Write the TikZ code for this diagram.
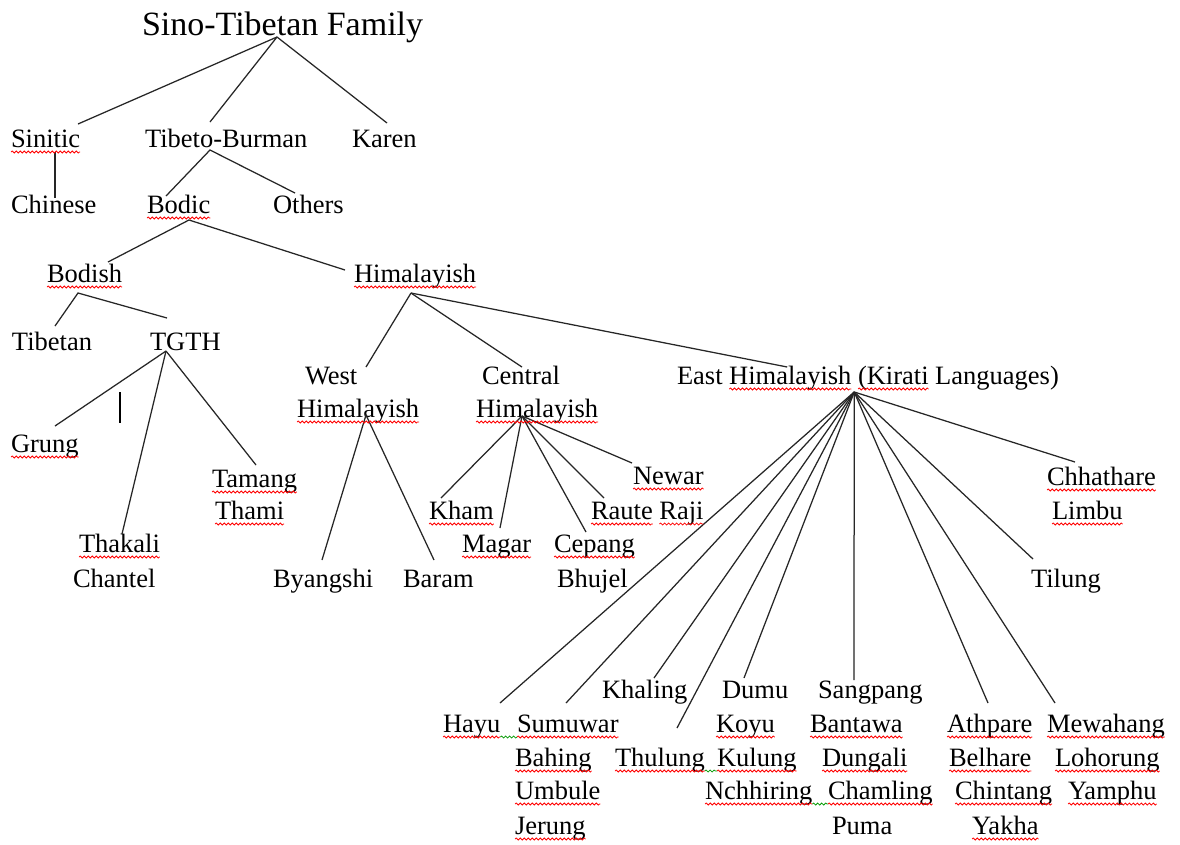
\documentclass[tikz,border=0pt]{standalone}
\usepackage{fontspec}
\setmainfont{Liberation Serif}
\usetikzlibrary{decorations.pathmorphing}

\newcommand\lblsize{\fontsize{26.5}{30}\selectfont}
\newcommand\titlesize{\fontsize{34}{40}\selectfont}

\tikzset{
  lbl/.style={anchor=base west, inner sep=0pt, outer sep=0pt, font=\lblsize},
  ttl/.style={lbl, font=\titlesize},
  branch/.style={line width=1.25pt, draw=black!85},
  squig/.style={decorate, decoration={snake, segment length=4pt, amplitude=1pt}, line width=0.75pt},
  caret/.style={line width=1.8pt, draw=black},
}

% wavy spell-check mark under a word, and a grammar mark across a gap
\newcommand\wavy[2][red]{\draw[squig,#1] ([yshift=-5pt]#2.base west) -- ([yshift=-5pt]#2.base east);}
\newcommand\gapmark[2]{\draw[squig,green!60!black] ([yshift=-5pt]#1.base east) -- ([yshift=-5pt]#2.base west);}

\begin{document}
\begin{tikzpicture}[x=1pt, y=-1pt]
\useasboundingbox[fill=white] (0,0) rectangle (1180,844);

% ---------- labels ----------
\node[ttl] (family)   at (142,35)  {Sino-Tibetan Family};
\node[lbl] (sinitic)  at (11,147)  {Sinitic};
\node[lbl] (tibburm)  at (145,147) {Tibeto-Burman};
\node[lbl] (karen)    at (352,147) {Karen};
\node[lbl] (chinese)  at (11,213)  {Chinese};
\node[lbl] (bodic)    at (147,213) {Bodic};
\node[lbl] (others)   at (273,213) {Others};
\node[lbl] (bodish)   at (47,282)  {Bodish};
\node[lbl] (himal)    at (354,282) {Himalayish};
\node[lbl] (tibetan)  at (12,350)  {Tibetan};
\node[lbl] (tgth)     at (150,350) {TGTH};
\node[lbl] (grung)    at (11,452)  {Grung};
\node[lbl] (tamang)   at (212,487) {Tamang};
\node[lbl] (thami)    at (215,519) {Thami};
\node[lbl] (thakali)  at (79,552)  {Thakali};
\node[lbl] (chantel)  at (73,587)  {Chantel};

\node[lbl] (westA)    at (305,384) {West};
\node[lbl] (westB)    at (297,417) {Himalayish};
\node[lbl] (centA)    at (482,384) {Central};
\node[lbl] (centB)    at (476,417) {Himalayish};
\node[lbl] (eEast)    at (677,384) {East};
\node[lbl] (eHim)     at ([xshift=6.6pt]eEast.base east) {Himalayish};
\node[lbl] (eKir)     at ([xshift=6.6pt]eHim.base east)  {(Kirati};
\node[lbl] (eLang)    at ([xshift=6.6pt]eKir.base east)  {Languages)};

\node[lbl] (byangshi) at (273,587) {Byangshi};
\node[lbl] (baram)    at (403,587) {Baram};
\node[lbl] (kham)     at (429,519) {Kham};
\node[lbl] (magar)    at (462,552) {Magar};
\node[lbl] (cepang)   at (554,552) {Cepang};
\node[lbl] (bhujel)   at (557,587) {Bhujel};
\node[lbl] (newar)    at (633,484) {Newar};
\node[lbl] (raute)    at (591,519) {Raute};
\node[lbl] (raji)     at ([xshift=6.6pt]raute.base east) {Raji};

\node[lbl] (chhathare) at (1047,485) {Chhathare};
\node[lbl] (limbu)     at (1052,519) {Limbu};
\node[lbl] (tilung)    at (1031,587) {Tilung};

\node[lbl] (khaling)  at (602,698)  {Khaling};
\node[lbl] (dumu)     at (722,698)  {Dumu};
\node[lbl] (sangpang) at (818,698)  {Sangpang};
\node[lbl] (hayu)     at (443,732)  {Hayu};
\node[lbl] (sumuwar)  at (517,732)  {Sumuwar};
\node[lbl] (koyu)     at (716,732)  {Koyu};
\node[lbl] (bantawa)  at (810,732)  {Bantawa};
\node[lbl] (athpare)  at (947,732)  {Athpare};
\node[lbl] (mewahang) at (1047,732) {Mewahang};
\node[lbl] (bahing)   at (515,766)  {Bahing};
\node[lbl] (thulung)  at (615,766)  {Thulung};
\node[lbl] (kulung)   at (717,766)  {Kulung};
\node[lbl] (dungali)  at (822,766)  {Dungali};
\node[lbl] (belhare)  at (949,766)  {Belhare};
\node[lbl] (lohorung) at (1055,766) {Lohorung};
\node[lbl] (umbule)   at (515,799)  {Umbule};
\node[lbl] (nchhiring) at (705,799) {Nchhiring};
\node[lbl] (chamling) at (828,799)  {Chamling};
\node[lbl] (chintang) at (955,799)  {Chintang};
\node[lbl] (yamphu)   at (1068,799) {Yamphu};
\node[lbl] (jerung)   at (515,834)  {Jerung};
\node[lbl] (puma)     at (832,834)  {Puma};
\node[lbl] (yakha)    at (972,834)  {Yakha};

% ---------- branches ----------
\draw[branch] ([shift={(67,-23)}]sinitic.base west) -- ([shift={(135,2)}]family.base west)
              -- ([shift={(35,-24)}]karen.base west);
\draw[branch] ([shift={(135,2)}]family.base west) -- ([shift={(65,-25)}]tibburm.base west);
\draw[branch] ([shift={(44,5)}]sinitic.base west) -- ([shift={(44,-15)}]chinese.base west);
\draw[branch] ([shift={(19,-17)}]bodic.base west) -- ([shift={(65,3)}]tibburm.base west)
              -- ([shift={(22,-20)}]others.base west);
\draw[branch] ([shift={(61,-20)}]bodish.base west) -- ([shift={(42,7)}]bodic.base west)
              -- ([shift={(-9,-12)}]himal.base west);
\draw[branch] ([shift={(43,-24)}]tibetan.base west) -- ([shift={(31,11)}]bodish.base west)
              -- ([shift={(17,-32)}]tgth.base west);
\draw[branch] ([shift={(16,1)}]tgth.base west) -- ([shift={(44,-26)}]grung.base west);
\draw[branch] ([shift={(16,1)}]tgth.base west) -- ([shift={(43,-18)}]thakali.base west);
\draw[branch] ([shift={(16,1)}]tgth.base west) -- ([shift={(44,-22)}]tamang.base west);

\draw[branch] ([shift={(57,11)}]himal.base west) -- ([shift={(61,-17)}]westA.base west);
\draw[branch] ([shift={(57,11)}]himal.base west) -- ([shift={(40,-17)}]centA.base west);
\draw[branch] ([shift={(57,11)}]himal.base west) -- ([shift={(58,-17)}]eHim.base west);

\draw[branch] ([shift={(49,-27)}]byangshi.base west) -- ([shift={(69,-2)}]westB.base west)
              -- ([shift={(31,-27)}]baram.base west);

\foreach \tgt/\dx/\dy in {kham/12/-21, magar/38/-24, cepang/32/-20, raute/13/-21, newar/-1/-21}
  \draw[branch] ([shift={(46,-1)}]centB.base west) -- ([shift={(\dx,\dy)}]\tgt.base west);

\foreach \tgt/\dx/\dy in {hayu/57/-29, sumuwar/49/-29, khaling/52/-20, thulung/62/-38,
                          dumu/22/-20, sangpang/36/-18, athpare/41/-29, mewahang/8/-29,
                          tilung/2/-28, chhathare/28/-23}
  \draw[branch] ([shift={(125,8)}]eHim.base west) -- ([shift={(\dx,\dy)}]\tgt.base west);

% stray text cursor
\draw[caret] (120,392) -- (120,423);

% ---------- spell-check marks ----------
\foreach \w in {sinitic, bodic, bodish, himal, grung, thakali, tamang, thami,
                westB, centB, eHim, eKir, kham, magar, cepang, newar, raute, raji,
                chhathare, limbu, hayu, sumuwar, koyu, bahing, thulung, kulung,
                umbule, nchhiring, chamling, jerung, bantawa, dungali,
                athpare, belhare, chintang, yakha, mewahang, lohorung, yamphu}
  {\wavy{\w}}
\gapmark{hayu}{sumuwar}
\gapmark{thulung}{kulung}
\gapmark{nchhiring}{chamling}
\end{tikzpicture}
\end{document}
